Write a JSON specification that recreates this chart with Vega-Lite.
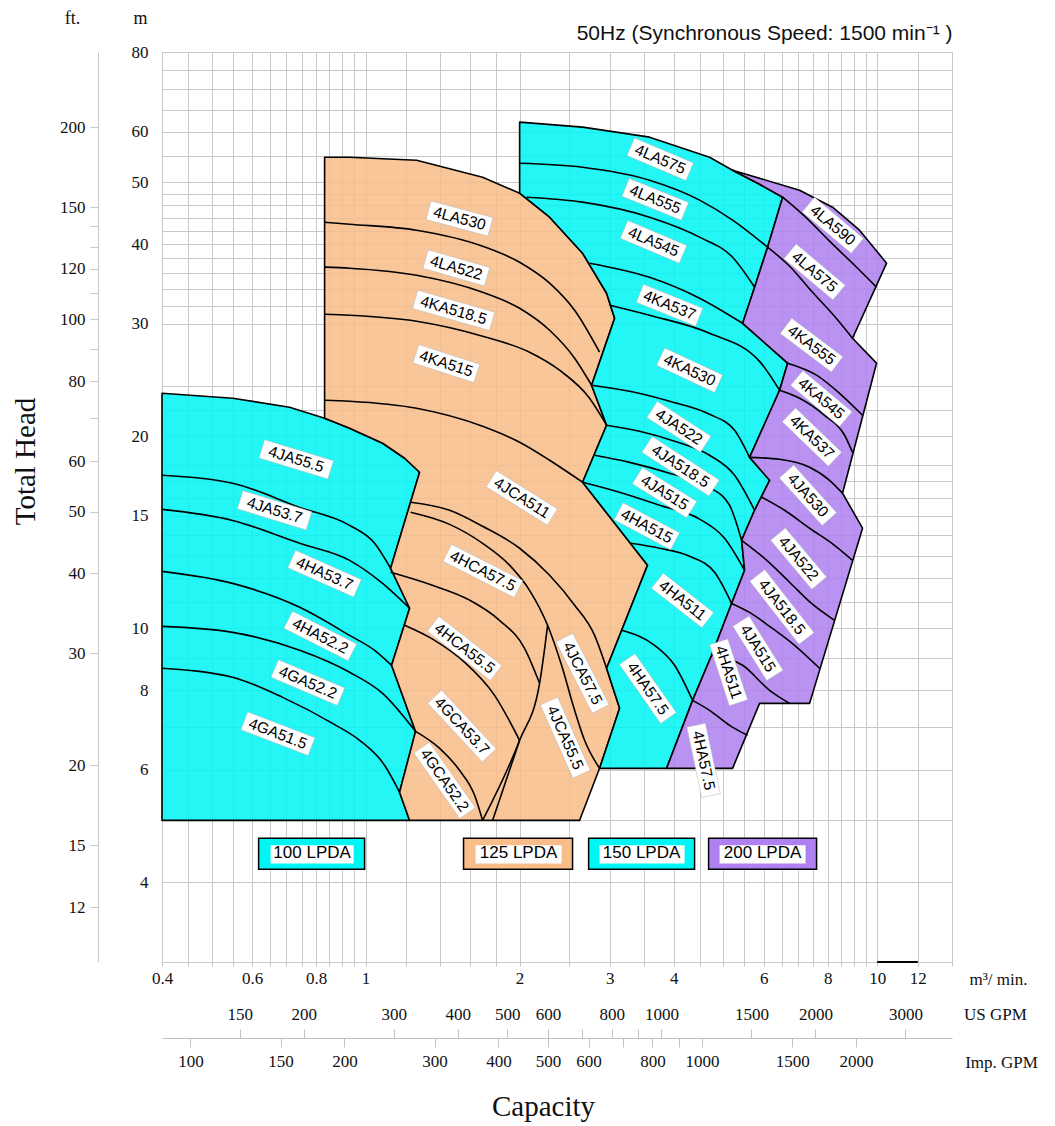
{
  "$schema": "https://vega.github.io/schema/vega-lite/v6.json",
  "width": 790,
  "height": 910,
  "autosize": {"type": "none"},
  "padding": {"left": 162, "top": 52, "right": 103, "bottom": 164},
  "background": "white",
  "config": {
    "view": {"stroke": "#c8c8c8"},
    "axis": {"labelFont": "Liberation Serif", "titleFont": "Liberation Serif", "labelColor": "#111", "titleColor": "#111", "titleFontWeight": "normal", "labelFontSize": 17, "titleFontSize": 17, "labelOverlap": false, "labelFlush": false}
  },
  "datasets": {
    "regions": [
      {"poly": "c100", "group": "100 LPDA", "i": 0, "q": 0.4, "h": 5.0},
      {"poly": "c100", "group": "100 LPDA", "i": 1, "q": 0.4, "h": 23.35},
      {"poly": "c100", "group": "100 LPDA", "i": 2, "q": 0.5496, "h": 22.94},
      {"poly": "c100", "group": "100 LPDA", "i": 3, "q": 0.7102, "h": 22.2},
      {"poly": "c100", "group": "100 LPDA", "i": 4, "q": 0.8315, "h": 21.34},
      {"poly": "c100", "group": "100 LPDA", "i": 5, "q": 0.9305, "h": 20.58},
      {"poly": "c100", "group": "100 LPDA", "i": 6, "q": 1.0795, "h": 19.5},
      {"poly": "c100", "group": "100 LPDA", "i": 7, "q": 1.192, "h": 18.47},
      {"poly": "c100", "group": "100 LPDA", "i": 8, "q": 1.275, "h": 17.56},
      {"poly": "c100", "group": "100 LPDA", "i": 9, "q": 1.119, "h": 12.42},
      {"poly": "c100", "group": "100 LPDA", "i": 10, "q": 1.219, "h": 10.75},
      {"poly": "c100", "group": "100 LPDA", "i": 11, "q": 1.124, "h": 8.751},
      {"poly": "c100", "group": "100 LPDA", "i": 12, "q": 1.252, "h": 6.894},
      {"poly": "c100", "group": "100 LPDA", "i": 13, "q": 1.165, "h": 5.535},
      {"poly": "c100", "group": "100 LPDA", "i": 14, "q": 1.219, "h": 5.0},

      {"poly": "o125", "group": "125 LPDA", "i": 0, "q": 0.8315, "h": 54.72},
      {"poly": "o125", "group": "125 LPDA", "i": 1, "q": 0.9305, "h": 54.72},
      {"poly": "o125", "group": "125 LPDA", "i": 2, "q": 1.258, "h": 54.13},
      {"poly": "o125", "group": "125 LPDA", "i": 3, "q": 1.693, "h": 50.91},
      {"poly": "o125", "group": "125 LPDA", "i": 4, "q": 2.0, "h": 48.06},
      {"poly": "o125", "group": "125 LPDA", "i": 5, "q": 2.289, "h": 44.08},
      {"poly": "o125", "group": "125 LPDA", "i": 6, "q": 2.655, "h": 38.71},
      {"poly": "o125", "group": "125 LPDA", "i": 7, "q": 2.958, "h": 33.5},
      {"poly": "o125", "group": "125 LPDA", "i": 8, "q": 3.067, "h": 30.61},
      {"poly": "o125", "group": "125 LPDA", "i": 9, "q": 2.765, "h": 24.04},
      {"poly": "o125", "group": "125 LPDA", "i": 10, "q": 2.958, "h": 20.81},
      {"poly": "o125", "group": "125 LPDA", "i": 11, "q": 2.655, "h": 16.94},
      {"poly": "o125", "group": "125 LPDA", "i": 12, "q": 3.557, "h": 12.56},
      {"poly": "o125", "group": "125 LPDA", "i": 13, "q": 2.958, "h": 8.657},
      {"poly": "o125", "group": "125 LPDA", "i": 14, "q": 3.136, "h": 7.492},
      {"poly": "o125", "group": "125 LPDA", "i": 15, "q": 2.866, "h": 6.034},
      {"poly": "o125", "group": "125 LPDA", "i": 16, "q": 2.619, "h": 5.0},
      {"poly": "o125", "group": "125 LPDA", "i": 17, "q": 1.219, "h": 5.0},
      {"poly": "o125", "group": "125 LPDA", "i": 18, "q": 1.165, "h": 5.535},
      {"poly": "o125", "group": "125 LPDA", "i": 19, "q": 1.252, "h": 6.894},
      {"poly": "o125", "group": "125 LPDA", "i": 20, "q": 1.124, "h": 8.751},
      {"poly": "o125", "group": "125 LPDA", "i": 21, "q": 1.219, "h": 10.75},
      {"poly": "o125", "group": "125 LPDA", "i": 22, "q": 1.119, "h": 12.42},
      {"poly": "o125", "group": "125 LPDA", "i": 23, "q": 1.275, "h": 17.56},
      {"poly": "o125", "group": "125 LPDA", "i": 24, "q": 1.192, "h": 18.47},
      {"poly": "o125", "group": "125 LPDA", "i": 25, "q": 1.0795, "h": 19.5},
      {"poly": "o125", "group": "125 LPDA", "i": 26, "q": 0.9305, "h": 20.58},
      {"poly": "o125", "group": "125 LPDA", "i": 27, "q": 0.8315, "h": 21.34},

      {"poly": "c150", "group": "150 LPDA", "i": 0, "q": 2.0, "h": 62.11},
      {"poly": "c150", "group": "150 LPDA", "i": 1, "q": 2.655, "h": 61.0},
      {"poly": "c150", "group": "150 LPDA", "i": 2, "q": 3.589, "h": 58.84},
      {"poly": "c150", "group": "150 LPDA", "i": 3, "q": 4.702, "h": 54.72},
      {"poly": "c150", "group": "150 LPDA", "i": 4, "q": 5.215, "h": 52.21},
      {"poly": "c150", "group": "150 LPDA", "i": 5, "q": 5.837, "h": 49.83},
      {"poly": "c150", "group": "150 LPDA", "i": 6, "q": 6.532, "h": 47.38},
      {"poly": "c150", "group": "150 LPDA", "i": 7, "q": 6.105, "h": 39.56},
      {"poly": "c150", "group": "150 LPDA", "i": 8, "q": 5.758, "h": 34.24},
      {"poly": "c150", "group": "150 LPDA", "i": 9, "q": 5.456, "h": 30.06},
      {"poly": "c150", "group": "150 LPDA", "i": 10, "q": 6.68, "h": 26.03},
      {"poly": "c150", "group": "150 LPDA", "i": 11, "q": 6.444, "h": 23.61},
      {"poly": "c150", "group": "150 LPDA", "i": 12, "q": 5.63, "h": 18.53},
      {"poly": "c150", "group": "150 LPDA", "i": 13, "q": 6.16, "h": 17.06},
      {"poly": "c150", "group": "150 LPDA", "i": 14, "q": 5.758, "h": 15.31},
      {"poly": "c150", "group": "150 LPDA", "i": 15, "q": 5.431, "h": 13.74},
      {"poly": "c150", "group": "150 LPDA", "i": 16, "q": 5.505, "h": 12.33},
      {"poly": "c150", "group": "150 LPDA", "i": 17, "q": 5.192, "h": 10.94},
      {"poly": "c150", "group": "150 LPDA", "i": 18, "q": 4.745, "h": 9.072},
      {"poly": "c150", "group": "150 LPDA", "i": 19, "q": 4.356, "h": 7.711},
      {"poly": "c150", "group": "150 LPDA", "i": 20, "q": 3.875, "h": 6.034},
      {"poly": "c150", "group": "150 LPDA", "i": 21, "q": 2.866, "h": 6.034},
      {"poly": "c150", "group": "150 LPDA", "i": 22, "q": 3.136, "h": 7.492},
      {"poly": "c150", "group": "150 LPDA", "i": 23, "q": 2.958, "h": 8.657},
      {"poly": "c150", "group": "150 LPDA", "i": 24, "q": 3.557, "h": 12.56},
      {"poly": "c150", "group": "150 LPDA", "i": 25, "q": 2.655, "h": 16.94},
      {"poly": "c150", "group": "150 LPDA", "i": 26, "q": 2.958, "h": 20.81},
      {"poly": "c150", "group": "150 LPDA", "i": 27, "q": 2.765, "h": 24.04},
      {"poly": "c150", "group": "150 LPDA", "i": 28, "q": 3.067, "h": 30.61},
      {"poly": "c150", "group": "150 LPDA", "i": 29, "q": 2.958, "h": 33.5},
      {"poly": "c150", "group": "150 LPDA", "i": 30, "q": 2.655, "h": 38.71},
      {"poly": "c150", "group": "150 LPDA", "i": 31, "q": 2.289, "h": 44.08},
      {"poly": "c150", "group": "150 LPDA", "i": 32, "q": 2.0, "h": 48.06},

      {"poly": "p200", "group": "200 LPDA", "i": 0, "q": 5.215, "h": 52.21},
      {"poly": "p200", "group": "200 LPDA", "i": 1, "q": 7.05, "h": 48.59},
      {"poly": "p200", "group": "200 LPDA", "i": 2, "q": 8.178, "h": 45.7},
      {"poly": "p200", "group": "200 LPDA", "i": 3, "q": 9.2345, "h": 42.06},
      {"poly": "p200", "group": "200 LPDA", "i": 4, "q": 10.43, "h": 37.34},
      {"poly": "p200", "group": "200 LPDA", "i": 5, "q": 8.948, "h": 28.48},
      {"poly": "p200", "group": "200 LPDA", "i": 6, "q": 9.969, "h": 26.03},
      {"poly": "p200", "group": "200 LPDA", "i": 7, "q": 8.555, "h": 16.28},
      {"poly": "p200", "group": "200 LPDA", "i": 8, "q": 9.36, "h": 14.35},
      {"poly": "p200", "group": "200 LPDA", "i": 9, "q": 7.375, "h": 7.628},
      {"poly": "p200", "group": "200 LPDA", "i": 10, "q": 5.889, "h": 7.628},
      {"poly": "p200", "group": "200 LPDA", "i": 11, "q": 5.215, "h": 6.034},
      {"poly": "p200", "group": "200 LPDA", "i": 12, "q": 3.875, "h": 6.034},
      {"poly": "p200", "group": "200 LPDA", "i": 13, "q": 4.356, "h": 7.711},
      {"poly": "p200", "group": "200 LPDA", "i": 14, "q": 4.745, "h": 9.072},
      {"poly": "p200", "group": "200 LPDA", "i": 15, "q": 5.192, "h": 10.94},
      {"poly": "p200", "group": "200 LPDA", "i": 16, "q": 5.505, "h": 12.33},
      {"poly": "p200", "group": "200 LPDA", "i": 17, "q": 5.431, "h": 13.74},
      {"poly": "p200", "group": "200 LPDA", "i": 18, "q": 5.758, "h": 15.31},
      {"poly": "p200", "group": "200 LPDA", "i": 19, "q": 6.16, "h": 17.06},
      {"poly": "p200", "group": "200 LPDA", "i": 20, "q": 5.63, "h": 18.53},
      {"poly": "p200", "group": "200 LPDA", "i": 21, "q": 6.444, "h": 23.61},
      {"poly": "p200", "group": "200 LPDA", "i": 22, "q": 6.68, "h": 26.03},
      {"poly": "p200", "group": "200 LPDA", "i": 23, "q": 5.456, "h": 30.06},
      {"poly": "p200", "group": "200 LPDA", "i": 24, "q": 5.758, "h": 34.24},
      {"poly": "p200", "group": "200 LPDA", "i": 25, "q": 6.105, "h": 39.56},
      {"poly": "p200", "group": "200 LPDA", "i": 26, "q": 6.532, "h": 47.38},
      {"poly": "p200", "group": "200 LPDA", "i": 27, "q": 5.837, "h": 49.83}
    ],
    "curves": [
      {"c": "a1", "i": 0, "q": 0.4, "h": 17.37}, {"c": "a1", "i": 1, "q": 0.5496, "h": 16.88}, {"c": "a1", "i": 2, "q": 0.7434, "h": 15.47}, {"c": "a1", "i": 3, "q": 0.9305, "h": 14.5}, {"c": "a1", "i": 4, "q": 1.0413, "h": 13.59}, {"c": "a1", "i": 5, "q": 1.119, "h": 12.42},
      {"c": "a2", "i": 0, "q": 0.4, "h": 15.36}, {"c": "a2", "i": 1, "q": 0.5496, "h": 14.76}, {"c": "a2", "i": 2, "q": 0.7434, "h": 13.59}, {"c": "a2", "i": 3, "q": 0.9305, "h": 12.78}, {"c": "a2", "i": 4, "q": 1.0795, "h": 11.76}, {"c": "a2", "i": 5, "q": 1.219, "h": 10.75},
      {"c": "a3", "i": 0, "q": 0.4, "h": 12.28}, {"c": "a3", "i": 1, "q": 0.5496, "h": 11.76}, {"c": "a3", "i": 2, "q": 0.7434, "h": 10.79}, {"c": "a3", "i": 3, "q": 0.9305, "h": 9.75}, {"c": "a3", "i": 4, "q": 1.0413, "h": 9.236}, {"c": "a3", "i": 5, "q": 1.124, "h": 8.751},
      {"c": "a4", "i": 0, "q": 0.4, "h": 10.07}, {"c": "a4", "i": 1, "q": 0.5496, "h": 9.856}, {"c": "a4", "i": 2, "q": 0.7434, "h": 9.236}, {"c": "a4", "i": 3, "q": 0.9305, "h": 8.533}, {"c": "a4", "i": 4, "q": 1.0795, "h": 7.908}, {"c": "a4", "i": 5, "q": 1.252, "h": 6.894},
      {"c": "a5", "i": 0, "q": 0.4, "h": 8.657}, {"c": "a5", "i": 1, "q": 0.5496, "h": 8.381}, {"c": "a5", "i": 2, "q": 0.6885, "h": 7.795}, {"c": "a5", "i": 3, "q": 0.8619, "h": 7.096}, {"c": "a5", "i": 4, "q": 0.9734, "h": 6.676}, {"c": "a5", "i": 5, "q": 1.0892, "h": 6.1}, {"c": "a5", "i": 6, "q": 1.165, "h": 5.535},

      {"c": "b1", "i": 0, "q": 0.8315, "h": 43.29}, {"c": "b1", "i": 1, "q": 0.9305, "h": 42.98}, {"c": "b1", "i": 2, "q": 1.258, "h": 42.06}, {"c": "b1", "i": 3, "q": 1.693, "h": 39.7}, {"c": "b1", "i": 4, "q": 2.0, "h": 37.47}, {"c": "b1", "i": 5, "q": 2.289, "h": 34.74}, {"c": "b1", "i": 6, "q": 2.5617, "h": 31.5}, {"c": "b1", "i": 7, "q": 2.866, "h": 27.08},
      {"c": "b2", "i": 0, "q": 0.8315, "h": 36.81}, {"c": "b2", "i": 1, "q": 0.9305, "h": 36.67}, {"c": "b2", "i": 2, "q": 1.258, "h": 35.75}, {"c": "b2", "i": 3, "q": 1.693, "h": 33.62}, {"c": "b2", "i": 4, "q": 2.0, "h": 31.73}, {"c": "b2", "i": 5, "q": 2.289, "h": 29.31}, {"c": "b2", "i": 6, "q": 2.5617, "h": 26.5}, {"c": "b2", "i": 7, "q": 2.765, "h": 24.04},
      {"c": "b3", "i": 0, "q": 0.8315, "h": 31.05}, {"c": "b3", "i": 1, "q": 0.9305, "h": 30.94}, {"c": "b3", "i": 2, "q": 1.258, "h": 30.28}, {"c": "b3", "i": 3, "q": 1.693, "h": 28.69}, {"c": "b3", "i": 4, "q": 2.0915, "h": 27.08}, {"c": "b3", "i": 5, "q": 2.3935, "h": 25.38}, {"c": "b3", "i": 6, "q": 2.74, "h": 22.94}, {"c": "b3", "i": 7, "q": 2.958, "h": 20.81},
      {"c": "b4", "i": 0, "q": 0.8315, "h": 22.77}, {"c": "b4", "i": 1, "q": 0.9305, "h": 22.69}, {"c": "b4", "i": 2, "q": 1.258, "h": 22.12}, {"c": "b4", "i": 3, "q": 1.693, "h": 20.73}, {"c": "b4", "i": 4, "q": 2.0, "h": 19.57}, {"c": "b4", "i": 5, "q": 2.289, "h": 18.34}, {"c": "b4", "i": 6, "q": 2.655, "h": 16.94},

      {"c": "c1", "i": 0, "q": 1.2244, "h": 15.76}, {"c": "c1", "i": 1, "q": 1.4594, "h": 15.31}, {"c": "c1", "i": 2, "q": 1.693, "h": 14.45}, {"c": "c1", "i": 3, "q": 2.0, "h": 13.35}, {"c": "c1", "i": 4, "q": 2.289, "h": 12.11}, {"c": "c1", "i": 5, "q": 2.5617, "h": 10.87}, {"c": "c1", "i": 6, "q": 2.8024, "h": 9.75}, {"c": "c1", "i": 7, "q": 2.958, "h": 8.657},
      {"c": "c2", "i": 0, "q": 1.2244, "h": 15.2}, {"c": "c2", "i": 1, "q": 1.4594, "h": 14.55}, {"c": "c2", "i": 2, "q": 1.693, "h": 13.59}, {"c": "c2", "i": 3, "q": 1.9113, "h": 12.56}, {"c": "c2", "i": 4, "q": 2.0915, "h": 11.47}, {"c": "c2", "i": 5, "q": 2.2683, "h": 10.11}, {"c": "c2", "i": 6, "q": 2.4157, "h": 8.751}, {"c": "c2", "i": 7, "q": 2.5617, "h": 7.438}, {"c": "c2", "i": 8, "q": 2.679, "h": 6.676}, {"c": "c2", "i": 9, "q": 2.866, "h": 6.034},
      {"c": "h2", "i": 0, "q": 1.119, "h": 12.24}, {"c": "h2", "i": 1, "q": 1.3336, "h": 11.72}, {"c": "h2", "i": 2, "q": 1.5968, "h": 11.07}, {"c": "h2", "i": 3, "q": 1.827, "h": 10.293}, {"c": "h2", "i": 4, "q": 2.0449, "h": 9.304}, {"c": "h2", "i": 5, "q": 2.188, "h": 8.201},
      {"c": "g1", "i": 0, "q": 1.192, "h": 10.11}, {"c": "g1", "i": 1, "q": 1.3643, "h": 9.576}, {"c": "g1", "i": 2, "q": 1.5614, "h": 8.846}, {"c": "g1", "i": 3, "q": 1.7868, "h": 7.852}, {"c": "g1", "i": 4, "q": 2.0, "h": 6.676},
      {"c": "g2", "i": 0, "q": 1.2523, "h": 6.894}, {"c": "g2", "i": 1, "q": 1.3955, "h": 6.485}, {"c": "g2", "i": 2, "q": 1.526, "h": 5.991}, {"c": "g2", "i": 3, "q": 1.6332, "h": 5.475}, {"c": "g2", "i": 4, "q": 1.693, "h": 5.0},
      {"c": "hb", "i": 0, "q": 2.2683, "h": 10.11}, {"c": "hb", "i": 1, "q": 2.188, "h": 8.201}, {"c": "hb", "i": 2, "q": 2.0, "h": 6.676}, {"c": "hb", "i": 3, "q": 1.693, "h": 5.0},
      {"c": "jb", "i": 0, "q": 2.0, "h": 6.676}, {"c": "jb", "i": 1, "q": 1.7708, "h": 5.0},

      {"c": "d1", "i": 0, "q": 2.0, "h": 53.55}, {"c": "d1", "i": 1, "q": 2.655, "h": 52.78}, {"c": "d1", "i": 2, "q": 3.589, "h": 50.36}, {"c": "d1", "i": 3, "q": 4.4955, "h": 46.88}, {"c": "d1", "i": 4, "q": 5.215, "h": 43.61}, {"c": "d1", "i": 5, "q": 6.105, "h": 39.56},
      {"c": "d2", "i": 0, "q": 2.0635, "h": 47.38}, {"c": "d2", "i": 1, "q": 2.655, "h": 46.54}, {"c": "d2", "i": 2, "q": 3.589, "h": 44.08}, {"c": "d2", "i": 3, "q": 4.4955, "h": 41.02}, {"c": "d2", "i": 4, "q": 5.215, "h": 38.14}, {"c": "d2", "i": 5, "q": 5.758, "h": 34.24},
      {"c": "d3", "i": 0, "q": 2.74, "h": 37.34}, {"c": "d3", "i": 1, "q": 3.589, "h": 35.49}, {"c": "d3", "i": 2, "q": 4.4955, "h": 32.91}, {"c": "d3", "i": 3, "q": 5.456, "h": 30.06},
      {"c": "d4", "i": 0, "q": 2.998, "h": 32.08}, {"c": "d4", "i": 1, "q": 3.589, "h": 30.94}, {"c": "d4", "i": 2, "q": 4.702, "h": 29.0}, {"c": "d4", "i": 3, "q": 5.889, "h": 26.2}, {"c": "d4", "i": 4, "q": 6.444, "h": 23.61},
      {"c": "d5", "i": 0, "q": 2.765, "h": 24.04}, {"c": "d5", "i": 1, "q": 3.2806, "h": 23.52}, {"c": "d5", "i": 2, "q": 3.9275, "h": 22.69}, {"c": "d5", "i": 3, "q": 4.702, "h": 21.65}, {"c": "d5", "i": 4, "q": 5.2622, "h": 20.43}, {"c": "d5", "i": 5, "q": 5.63, "h": 18.53},
      {"c": "d6", "i": 0, "q": 2.958, "h": 20.81}, {"c": "d6", "i": 1, "q": 3.4309, "h": 20.36}, {"c": "d6", "i": 2, "q": 4.0169, "h": 19.64}, {"c": "d6", "i": 3, "q": 4.702, "h": 18.67}, {"c": "d6", "i": 4, "q": 5.2622, "h": 17.37}, {"c": "d6", "i": 5, "q": 5.758, "h": 15.31},
      {"c": "d7", "i": 0, "q": 2.8024, "h": 18.67}, {"c": "d7", "i": 1, "q": 3.2806, "h": 18.2}, {"c": "d7", "i": 2, "q": 3.9275, "h": 17.5}, {"c": "d7", "i": 3, "q": 4.702, "h": 16.63}, {"c": "d7", "i": 4, "q": 5.1452, "h": 15.59}, {"c": "d7", "i": 5, "q": 5.431, "h": 13.74},
      {"c": "d8", "i": 0, "q": 2.655, "h": 16.94}, {"c": "d8", "i": 1, "q": 3.136, "h": 16.34}, {"c": "d8", "i": 2, "q": 3.7548, "h": 15.59}, {"c": "d8", "i": 3, "q": 4.4955, "h": 14.83}, {"c": "d8", "i": 4, "q": 5.0307, "h": 13.84}, {"c": "d8", "i": 5, "q": 5.505, "h": 12.33},
      {"c": "d9", "i": 0, "q": 3.2954, "h": 13.59}, {"c": "d9", "i": 1, "q": 3.7548, "h": 13.35}, {"c": "d9", "i": 2, "q": 4.298, "h": 12.97}, {"c": "d9", "i": 3, "q": 4.8093, "h": 12.24}, {"c": "d9", "i": 4, "q": 5.192, "h": 10.94},
      {"c": "d10", "i": 0, "q": 3.1645, "h": 9.928}, {"c": "d10", "i": 1, "q": 3.6713, "h": 9.405}, {"c": "d10", "i": 2, "q": 4.0169, "h": 8.751}, {"c": "d10", "i": 3, "q": 4.356, "h": 7.711},

      {"c": "e1", "i": 0, "q": 6.532, "h": 47.38}, {"c": "e1", "i": 1, "q": 7.212, "h": 44.24}, {"c": "e1", "i": 2, "q": 8.068, "h": 40.43}, {"c": "e1", "i": 3, "q": 9.029, "h": 37.06}, {"c": "e1", "i": 4, "q": 9.969, "h": 34.24},
      {"c": "e2", "i": 0, "q": 6.105, "h": 39.56}, {"c": "e2", "i": 1, "q": 6.741, "h": 36.93}, {"c": "e2", "i": 2, "q": 7.474, "h": 33.62}, {"c": "e2", "i": 3, "q": 8.251, "h": 30.83}, {"c": "e2", "i": 4, "q": 8.948, "h": 28.48},
      {"c": "e3", "i": 0, "q": 6.68, "h": 26.03}, {"c": "e3", "i": 1, "q": 7.6098, "h": 24.93}, {"c": "e3", "i": 2, "q": 8.439, "h": 23.35}, {"c": "e3", "i": 3, "q": 9.36, "h": 21.57},
      {"c": "e4", "i": 0, "q": 6.444, "h": 23.61}, {"c": "e4", "i": 1, "q": 7.05, "h": 22.94}, {"c": "e4", "i": 2, "q": 7.888, "h": 21.57}, {"c": "e4", "i": 3, "q": 8.634, "h": 20.07}, {"c": "e4", "i": 4, "q": 8.948, "h": 18.87},
      {"c": "e5", "i": 0, "q": 5.63, "h": 18.53}, {"c": "e5", "i": 1, "q": 6.444, "h": 18.4}, {"c": "e5", "i": 2, "q": 7.375, "h": 17.88}, {"c": "e5", "i": 3, "q": 8.068, "h": 17.06}, {"c": "e5", "i": 4, "q": 8.555, "h": 16.28},
      {"c": "e6", "i": 0, "q": 5.942, "h": 16.05}, {"c": "e6", "i": 1, "q": 6.5905, "h": 15.31}, {"c": "e6", "i": 2, "q": 7.375, "h": 14.35}, {"c": "e6", "i": 3, "q": 8.251, "h": 13.49}, {"c": "e6", "i": 4, "q": 8.948, "h": 12.78},
      {"c": "e7", "i": 0, "q": 5.431, "h": 13.74}, {"c": "e7", "i": 1, "q": 6.023, "h": 12.87}, {"c": "e7", "i": 2, "q": 6.741, "h": 11.81}, {"c": "e7", "i": 3, "q": 7.4407, "h": 10.94}, {"c": "e7", "i": 4, "q": 8.251, "h": 10.293},
      {"c": "e8", "i": 0, "q": 5.192, "h": 10.94}, {"c": "e8", "i": 1, "q": 5.63, "h": 10.59}, {"c": "e8", "i": 2, "q": 6.16, "h": 10.07}, {"c": "e8", "i": 3, "q": 6.894, "h": 9.405}, {"c": "e8", "i": 4, "q": 7.713, "h": 8.657},
      {"c": "e9", "i": 0, "q": 4.745, "h": 9.072}, {"c": "e9", "i": 1, "q": 5.456, "h": 8.751}, {"c": "e9", "i": 2, "q": 6.16, "h": 7.996}, {"c": "e9", "i": 3, "q": 6.741, "h": 7.628},
      {"c": "e10", "i": 0, "q": 4.356, "h": 7.711}, {"c": "e10", "i": 1, "q": 4.702, "h": 7.438}, {"c": "e10", "i": 2, "q": 5.1452, "h": 7.047}, {"c": "e10", "i": 3, "q": 5.5797, "h": 6.797}
    ],
    "labels": [
      {"label": "4JA55.5", "q": 0.7319, "h": 18.4, "angle": 17},
      {"label": "4JA53.7", "q": 0.6639, "h": 15.31, "angle": 17},
      {"label": "4HA53.7", "q": 0.8315, "h": 12.18, "angle": 24},
      {"label": "4HA52.2", "q": 0.8156, "h": 9.726, "angle": 27},
      {"label": "4GA52.2", "q": 0.7713, "h": 8.222, "angle": 23},
      {"label": "4GA51.5", "q": 0.6739, "h": 6.837, "angle": 21},
      {"label": "4LA530", "q": 1.526, "h": 43.87, "angle": 15},
      {"label": "4LA522", "q": 1.504, "h": 36.71, "angle": 16},
      {"label": "4KA518.5", "q": 1.486, "h": 31.5, "angle": 16},
      {"label": "4KA515", "q": 1.438, "h": 25.99, "angle": 18},
      {"label": "4JCA511", "q": 2.0203, "h": 16.01, "angle": 32},
      {"label": "4HCA57.5", "q": 1.6954, "h": 12.3, "angle": 27},
      {"label": "4HCA55.5", "q": 1.5614, "h": 9.304, "angle": 38},
      {"label": "4GCA53.7", "q": 1.5426, "h": 7.029, "angle": 47},
      {"label": "4GCA52.2", "q": 1.4268, "h": 5.778, "angle": 55},
      {"label": "4JCA57.5", "q": 2.655, "h": 8.502, "angle": 63},
      {"label": "4JCA55.5", "q": 2.4562, "h": 6.74, "angle": 66},
      {"label": "4LA575", "q": 3.7663, "h": 54.33, "angle": 23},
      {"label": "4LA555", "q": 3.6826, "h": 47.02, "angle": 22},
      {"label": "4LA545", "q": 3.6545, "h": 40.32, "angle": 23},
      {"label": "4KA537", "q": 3.9275, "h": 32.08, "angle": 22},
      {"label": "4KA530", "q": 4.298, "h": 25.38, "angle": 25},
      {"label": "4JA522", "q": 4.096, "h": 20.69, "angle": 33},
      {"label": "4JA518.5", "q": 4.127, "h": 17.95, "angle": 33},
      {"label": "4JA515", "q": 3.84, "h": 16.32, "angle": 32},
      {"label": "4HA515", "q": 3.5456, "h": 14.45, "angle": 28},
      {"label": "4HA511", "q": 4.164, "h": 11.06, "angle": 38},
      {"label": "4HA57.5", "q": 3.5616, "h": 8.046, "angle": 55},
      {"label": "4LA590", "q": 8.189, "h": 42.82, "angle": 40},
      {"label": "4LA575", "q": 7.542, "h": 36.18, "angle": 40},
      {"label": "4KA555", "q": 7.441, "h": 27.78, "angle": 37},
      {"label": "4KA545", "q": 7.774, "h": 22.91, "angle": 40},
      {"label": "4KA537", "q": 7.454, "h": 19.94, "angle": 44},
      {"label": "4JA530", "q": 7.321, "h": 16.16, "angle": 48},
      {"label": "4JA522", "q": 7.019, "h": 12.86, "angle": 50},
      {"label": "4JA518.5", "q": 6.511, "h": 10.8, "angle": 52},
      {"label": "4JA515", "q": 5.845, "h": 9.304, "angle": 58},
      {"label": "4HA511", "q": 5.122, "h": 8.533, "angle": 72},
      {"label": "4HA57.5", "q": 4.577, "h": 6.209, "angle": 78}
    ],
    "legend": [
      {"group": "100 LPDA", "q": 0.6179, "q2": 0.9955, "h": 4.687, "h2": 4.191, "qi": 0.6521, "qi2": 0.9475, "hi": 4.57, "hi2": 4.2816, "qt": 0.786, "ht": 4.442},
      {"group": "125 LPDA", "q": 1.554, "q2": 2.538, "h": 4.687, "h2": 4.191, "qi": 1.6405, "qi2": 2.4157, "hi": 4.57, "hi2": 4.2816, "qt": 1.9907, "ht": 4.442},
      {"group": "150 LPDA", "q": 2.7284, "q2": 4.3954, "h": 4.687, "h2": 4.191, "qi": 2.866, "qi2": 4.2022, "hi": 4.57, "hi2": 4.2816, "qt": 3.462, "ht": 4.442},
      {"group": "200 LPDA", "q": 4.6813, "q2": 7.6106, "h": 4.687, "h2": 4.191, "qi": 4.9188, "qi2": 7.2432, "hi": 4.57, "hi2": 4.2816, "qt": 5.969, "ht": 4.442}
    ],
    "seg": [{"q": 10, "q2": 12, "h": 3}]
  },
  "layer": [
    {
      "encoding": {
        "x": {"field": "q", "type": "quantitative",
          "scale": {"type": "log", "domain": [0.4, 14], "nice": false},
          "axis": {"values": [0.4,0.45,0.5,0.55,0.6,0.65,0.7,0.75,0.8,0.85,0.9,0.95,1,1.2,1.4,1.6,1.8,2,2.5,3,3.5,4,4.5,5,5.5,6,6.5,7,7.5,8,8.5,9,9.5,10,12,14],
            "grid": true, "gridColor": "#c8c8c8", "gridWidth": 1, "domain": false, "ticks": true, "tickSize": 4, "tickColor": "#c8c8c8",
            "labelExpr": "indexof([0.4,0.6,0.8,1,2,3,4,6,8,10,12], datum.value) >= 0 ? datum.value : ''",
            "labelPadding": 4, "labelBound": false,
            "title": "m³/ min.", "titleAlign": "center", "titleBaseline": "middle", "titleX": 836, "titleY": 17, "titleAngle": 0}},
        "y": {"field": "h", "type": "quantitative",
          "scale": {"type": "log", "domain": [3, 80], "nice": false},
          "axis": {"values": [3,4,5,6,7,8,9,10,11,12,13,14,15,16,17,18,20,22,24,30,32,34,36,38,40,42,44,46,48,50,55,60,65,70,75,80],
            "grid": true, "gridColor": "#c8c8c8", "gridWidth": 1, "domain": false, "ticks": false,
            "labelExpr": "indexof([4,6,8,10,15,20,30,40,50,60,80], datum.value) >= 0 ? datum.value : ''",
            "labelPadding": 14, "labelBound": false,
            "title": "m", "titleAngle": 0, "titleAlign": "center", "titleBaseline": "middle", "titleX": -22, "titleY": -34, "titleFontSize": 18}}
      },
      "layer": [
        {
          "data": {"name": "regions"},
          "mark": {"type": "line", "interpolate": "linear-closed", "stroke": "black", "strokeWidth": 1.6, "fillOpacity": 0.86, "strokeJoin": "round"},
          "encoding": {
            "detail": {"field": "poly"},
            "order": {"field": "i", "type": "quantitative"},
            "fill": {"field": "group", "type": "nominal", "scale": {"domain": ["100 LPDA", "125 LPDA", "150 LPDA", "200 LPDA"], "range": ["#00f5f5", "#f8bd89", "#00f5f5", "#ae80f0"]}, "legend": null}
          }
        },
        {
          "data": {"name": "curves"},
          "mark": {"type": "line", "stroke": "black", "strokeWidth": 1.6, "interpolate": "monotone"},
          "encoding": {
            "detail": {"field": "c"},
            "order": {"field": "i", "type": "quantitative"}
          }
        },
        {
          "data": {"name": "seg"},
          "mark": {"type": "rule", "stroke": "black", "strokeWidth": 2},
          "encoding": {"x2": {"field": "q2"}}
        },
        {
          "data": {"name": "labels"},
          "transform": [{"filter": "length(datum.label) <= 6"}],
          "mark": {"type": "point", "shape": "M-1,-0.3L1,-0.3L1,0.3L-1,0.3Z", "size": 4096, "filled": true, "fill": "white", "opacity": 1, "stroke": "#b8b8b8", "strokeWidth": 0.5},
          "encoding": {"angle": {"field": "angle", "type": "quantitative", "scale": null}}
        },
        {
          "data": {"name": "labels"},
          "transform": [{"filter": "length(datum.label) == 7"}],
          "mark": {"type": "point", "shape": "M-1,-0.264L1,-0.264L1,0.264L-1,0.264Z", "size": 5184, "filled": true, "fill": "white", "opacity": 1, "stroke": "#b8b8b8", "strokeWidth": 0.5},
          "encoding": {"angle": {"field": "angle", "type": "quantitative", "scale": null}}
        },
        {
          "data": {"name": "labels"},
          "transform": [{"filter": "length(datum.label) >= 8"}],
          "mark": {"type": "point", "shape": "M-1,-0.2375L1,-0.2375L1,0.2375L-1,0.2375Z", "size": 6400, "filled": true, "fill": "white", "opacity": 1, "stroke": "#b8b8b8", "strokeWidth": 0.5},
          "encoding": {"angle": {"field": "angle", "type": "quantitative", "scale": null}}
        },
        {
          "data": {"name": "labels"},
          "mark": {"type": "text", "font": "Liberation Sans", "fontSize": 15.5, "color": "black"},
          "encoding": {
            "text": {"field": "label"},
            "angle": {"field": "angle", "type": "quantitative", "scale": null}
          }
        },
        {
          "data": {"name": "legend"},
          "mark": {"type": "rect", "stroke": "black", "strokeWidth": 1.5},
          "encoding": {
            "x2": {"field": "q2"},
            "y2": {"field": "h2"},
            "fill": {"field": "group", "type": "nominal", "scale": {"domain": ["100 LPDA", "125 LPDA", "150 LPDA", "200 LPDA"], "range": ["#00f5f5", "#f8bd89", "#00f5f5", "#ae80f0"]}, "legend": null}
          }
        },
        {
          "data": {"name": "legend"},
          "mark": {"type": "rect", "fill": "white"},
          "encoding": {
            "x": {"field": "qi", "type": "quantitative"},
            "x2": {"field": "qi2"},
            "y": {"field": "hi", "type": "quantitative"},
            "y2": {"field": "hi2"}
          }
        },
        {
          "data": {"name": "legend"},
          "mark": {"type": "text", "font": "Liberation Sans", "fontSize": 17, "color": "black"},
          "encoding": {
            "x": {"field": "qt", "type": "quantitative"},
            "y": {"field": "ht", "type": "quantitative"},
            "text": {"field": "group"}
          }
        }
      ]
    },
    {
      "data": {"values": [{"g": 200}]},
      "mark": {"type": "point", "opacity": 0},
      "encoding": {
        "x": {"field": "g", "type": "quantitative",
          "scale": {"type": "log", "domain": [105.669, 3698.4], "nice": false},
          "axis": {"orient": "top", "offset": -986, "values": [150,200,300,400,500,600,700,800,900,1000,1500,2000,3000],
            "labelExpr": "indexof([150,200,300,400,500,600,800,1000,1500,2000,3000], datum.value) >= 0 ? datum.value : ''",
            "grid": false, "domain": false, "ticks": true, "tickSize": 9, "tickColor": "#c0c0c0", "labelPadding": 6, "labelBound": false,
            "title": "US GPM", "titleAngle": 0, "titleAlign": "center", "titleBaseline": "middle", "titleX": 833, "titleY": -24}}
      }
    },
    {
      "data": {"values": [{"g": 200}]},
      "mark": {"type": "point", "opacity": 0},
      "encoding": {
        "x": {"field": "g", "type": "quantitative",
          "scale": {"type": "log", "domain": [87.988, 3079.6], "nice": false},
          "axis": {"orient": "bottom", "offset": 76, "values": [100,150,200,300,400,500,600,700,800,900,1000,1500,2000],
            "labelExpr": "indexof([100,150,200,300,400,500,600,800,1000,1500,2000], datum.value) >= 0 ? datum.value : ''",
            "grid": false, "domain": true, "domainColor": "#c0c0c0", "ticks": true, "tickSize": 9, "tickColor": "#c0c0c0", "labelPadding": 6, "labelBound": false,
            "title": "Imp. GPM", "titleAngle": 0, "titleAlign": "center", "titleBaseline": "middle", "titleX": 839, "titleY": 24}}
      }
    },
    {
      "data": {"values": [{"f": 50}]},
      "mark": {"type": "point", "opacity": 0},
      "encoding": {
        "y": {"field": "f", "type": "quantitative",
          "scale": {"type": "log", "domain": [9.8425, 262.467], "nice": false},
          "axis": {"orient": "left", "offset": 64, "values": [12,15,20,30,40,50,60,70,80,90,100,110,120,130,140,150,200],
            "labelExpr": "indexof([12,15,20,30,40,50,60,80,100,120,150,200], datum.value) >= 0 ? datum.value : ''",
            "grid": false, "domain": true, "domainColor": "#c8c8c8", "ticks": true, "tickSize": 8, "tickColor": "#c8c8c8", "labelPadding": 5, "labelBound": false,
            "title": "ft.", "titleAngle": 0, "titleAlign": "center", "titleBaseline": "middle", "titleX": -26, "titleY": -34, "titleFontSize": 18}}
      }
    },
    {
      "data": {"values": [{"k": 1}]},
      "mark": {"type": "point", "opacity": 0},
      "encoding": {
        "x": {"field": "k", "type": "quantitative",
          "axis": {"orient": "bottom", "offset": 0, "domain": false, "ticks": false, "labels": false, "grid": false,
            "title": "Capacity", "titleFontSize": 29, "titleAngle": 0, "titleAlign": "center", "titleBaseline": "middle", "titleX": 381, "titleY": 144}},
        "y": {"field": "k", "type": "quantitative",
          "axis": {"orient": "left", "offset": 0, "domain": false, "ticks": false, "labels": false, "grid": false,
            "title": "Total Head", "titleFontSize": 29, "titleAngle": -90, "titleAlign": "center", "titleBaseline": "middle", "titleX": -137, "titleY": 409}}
      }
    },
    {
      "data": {"values": [{"t": 1}]},
      "mark": {"type": "point", "opacity": 0},
      "encoding": {
        "x": {"field": "t", "type": "quantitative",
          "axis": {"orient": "top", "offset": 0, "domain": false, "ticks": false, "labels": false, "grid": false,
            "title": "50Hz (Synchronous Speed: 1500 min⁻¹ )", "titleFont": "Liberation Sans", "titleFontSize": 21, "titleAngle": 0, "titleAlign": "right", "titleBaseline": "middle", "titleX": 790, "titleY": -19}}
      }
    }
  ],
  "resolve": {"scale": {"x": "independent", "y": "independent"}}
}
